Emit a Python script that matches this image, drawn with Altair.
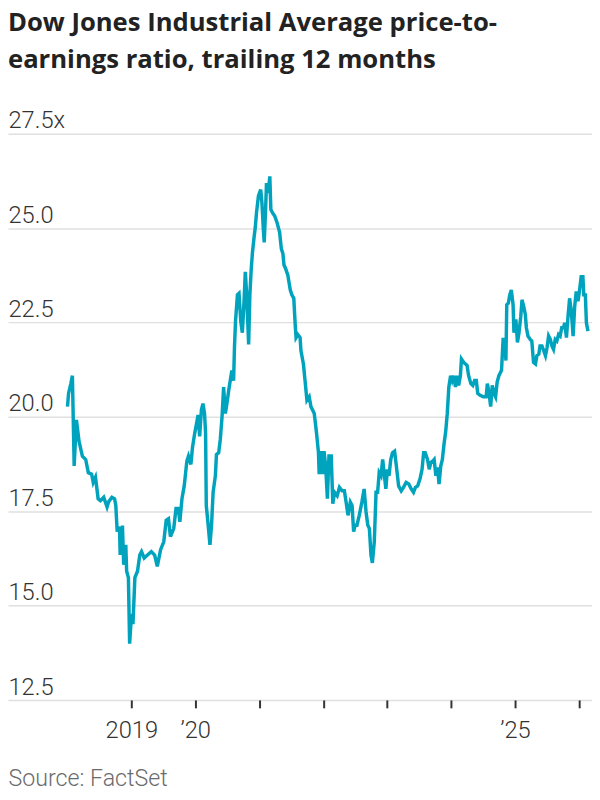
import altair as alt
import pandas as pd

# Decimal-year position of each reading and the trailing 12-month P/E ratio
years = [
    2018.002, 2018.017, 2018.054, 2018.079, 2018.105, 2018.140, 2018.182, 2018.233, 2018.285, 2018.326,
    2018.378, 2018.403, 2018.440, 2018.480, 2018.517, 2018.568, 2018.619, 2018.645, 2018.696, 2018.738,
    2018.758, 2018.779, 2018.815, 2018.826, 2018.861, 2018.881, 2018.912, 2018.927, 2018.954, 2018.974,
    2019.005, 2019.026, 2019.057, 2019.097, 2019.134, 2019.159, 2019.201, 2019.252, 2019.313, 2019.366,
    2019.406, 2019.458, 2019.509, 2019.545, 2019.582, 2019.613, 2019.664, 2019.699, 2019.736, 2019.761,
    2019.792, 2019.829, 2019.869, 2019.895, 2019.931, 2019.957, 2019.992, 2020.019, 2020.045, 2020.069,
    2020.096, 2020.122, 2020.147, 2020.162, 2020.173, 2020.199, 2020.230, 2020.255, 2020.281, 2020.316,
    2020.332, 2020.369, 2020.394, 2020.420, 2020.446, 2020.471, 2020.497, 2020.523, 2020.548, 2020.574,
    2020.600, 2020.616, 2020.631, 2020.662, 2020.687, 2020.713, 2020.739, 2020.759, 2020.785, 2020.806,
    2020.821, 2020.836, 2020.856, 2020.878, 2020.898, 2020.918, 2020.940, 2020.960, 2020.991, 2021.022,
    2021.042, 2021.063, 2021.079, 2021.099, 2021.114, 2021.140, 2021.165, 2021.181, 2021.207, 2021.242,
    2021.279, 2021.319, 2021.346, 2021.372, 2021.387, 2021.412, 2021.449, 2021.485, 2021.511, 2021.542,
    2021.562, 2021.577, 2021.603, 2021.639, 2021.654, 2021.690, 2021.721, 2021.747, 2021.782, 2021.809,
    2021.860, 2021.897, 2021.927, 2021.937, 2021.963, 2021.989, 2022.014, 2022.040, 2022.066, 2022.091,
    2022.128, 2022.153, 2022.179, 2022.221, 2022.256, 2022.298, 2022.333, 2022.360, 2022.390, 2022.426,
    2022.452, 2022.477, 2022.503, 2022.529, 2022.565, 2022.606, 2022.642, 2022.673, 2022.699, 2022.724,
    2022.750, 2022.770, 2022.801, 2022.827, 2022.853, 2022.878, 2022.904, 2022.931, 2022.955, 2022.981,
    2023.008, 2023.032, 2023.059, 2023.085, 2023.120, 2023.147, 2023.182, 2023.224, 2023.259, 2023.301,
    2023.341, 2023.378, 2023.414, 2023.444, 2023.480, 2023.517, 2023.548, 2023.573, 2023.599, 2023.634,
    2023.660, 2023.687, 2023.718, 2023.738, 2023.764, 2023.789, 2023.815, 2023.841, 2023.866, 2023.892,
    2023.918, 2023.943, 2023.969, 2023.995, 2024.020, 2024.046, 2024.073, 2024.097, 2024.123, 2024.150,
    2024.165, 2024.201, 2024.252, 2024.278, 2024.313, 2024.344, 2024.370, 2024.397, 2024.421, 2024.458,
    2024.509, 2024.551, 2024.571, 2024.597, 2024.622, 2024.648, 2024.674, 2024.699, 2024.725, 2024.752,
    2024.792, 2024.818, 2024.844, 2024.860, 2024.875, 2024.900, 2024.921, 2024.946, 2024.972, 2024.988,
    2025.014, 2025.039, 2025.065, 2025.091, 2025.111, 2025.137, 2025.162, 2025.178, 2025.204, 2025.239,
    2025.265, 2025.292, 2025.323, 2025.343, 2025.373, 2025.394, 2025.424, 2025.451, 2025.477, 2025.502,
    2025.528, 2025.554, 2025.579, 2025.605, 2025.631, 2025.656, 2025.682, 2025.708, 2025.733, 2025.759,
    2025.779, 2025.806, 2025.832, 2025.856, 2025.883, 2025.909, 2025.934, 2025.960, 2025.986, 2026.011,
    2026.037, 2026.063, 2026.079, 2026.103, 2026.119, 2026.143,
]

pe = [
    20.27, 20.62, 20.88, 21.09, 18.70, 19.92, 19.35, 18.96, 18.87, 18.52,
    18.48, 18.26, 18.40, 17.83, 17.78, 17.87, 17.61, 17.75, 17.87, 17.83,
    17.65, 16.96, 17.09, 16.34, 17.12, 16.08, 16.61, 15.91, 15.74, 13.99,
    14.78, 14.51, 15.74, 15.91, 16.34, 16.43, 16.26, 16.34, 16.43, 16.34,
    16.04, 16.48, 16.69, 17.26, 17.30, 16.83, 17.04, 17.57, 17.57, 17.22,
    17.83, 18.17, 18.83, 18.96, 18.74, 19.18, 19.57, 19.79, 20.05, 19.48,
    20.18, 20.35, 20.09, 19.57, 17.65, 17.22, 16.61, 17.13, 18.00, 18.44,
    19.00, 19.05, 19.40, 20.00, 20.79, 20.09, 20.35, 20.70, 20.96, 21.23,
    20.96, 21.83, 22.53, 23.23, 23.27, 22.53, 22.23, 22.88, 23.84, 23.23,
    22.62, 21.92, 23.23, 23.93, 24.36, 24.71, 25.02, 25.41, 25.85, 26.02,
    25.67, 24.97, 24.62, 25.49, 26.19, 25.93, 26.37, 25.49, 25.41, 25.32,
    25.15, 24.89, 24.45, 24.32, 24.02, 23.93, 23.75, 23.36, 23.23, 23.14,
    22.45, 22.10, 22.18, 22.10, 21.75, 21.40, 20.88, 20.44, 20.53, 20.27,
    20.09, 19.57, 19.05, 18.48, 19.09, 18.48, 19.09, 18.70, 17.83, 18.96,
    18.96, 17.70, 18.00, 17.91, 18.13, 18.04, 18.04, 17.74, 17.39, 17.74,
    17.65, 16.96, 17.13, 17.13, 17.39, 17.74, 18.09, 17.48, 17.13, 17.04,
    16.34, 16.13, 16.69, 18.00, 18.00, 18.52, 18.44, 18.87, 18.52, 18.09,
    18.61, 18.44, 18.87, 19.05, 19.09, 18.70, 18.17, 18.04, 18.13, 18.26,
    18.22, 18.09, 18.00, 18.13, 18.17, 18.35, 18.61, 19.05, 19.05, 18.87,
    18.61, 18.79, 18.83, 18.87, 18.44, 18.66, 18.22, 18.70, 18.87, 19.26,
    19.61, 20.09, 20.79, 21.09, 20.96, 21.09, 20.79, 21.09, 20.83, 21.09,
    21.53, 21.44, 21.36, 21.09, 20.88, 20.83, 20.96, 20.96, 20.62, 20.57,
    20.53, 20.53, 20.88, 20.62, 20.27, 20.83, 20.62, 20.53, 20.92, 21.09,
    21.23, 22.05, 22.05, 21.49, 22.97, 23.01, 23.23, 23.36, 22.97, 22.23,
    22.58, 21.97, 22.23, 22.66, 23.10, 22.92, 22.71, 22.36, 22.14, 22.05,
    22.01, 21.44, 21.40, 21.62, 21.66, 21.88, 21.88, 21.75, 21.62, 21.83,
    22.14, 22.05, 21.88, 21.79, 22.05, 22.01, 22.18, 22.14, 22.36, 22.36,
    22.49, 22.10, 22.66, 23.14, 22.79, 22.14, 22.92, 23.32, 23.06, 23.36,
    23.71, 23.71, 23.23, 23.23, 22.49, 22.27,
]

title_lines = ["Dow Jones Industrial Average price-to-", "earnings ratio, trailing 12 months"]
source_text = "Source: FactSet"
y_ticks = [12.5, 15.0, 17.5, 20.0, 22.5, 25.0, 27.5]
x_tick_years = [2019, 2020, 2021, 2022, 2023, 2024, 2025, 2026]
x_tick_labels = {2019: "2019", 2020: "\u201920", 2025: "\u201925"}


def to_date(y):
    base = pd.Timestamp(year=int(y), month=1, day=1)
    return (base + pd.Timedelta(days=(y - int(y)) * 365.25)).strftime("%Y-%m-%d")


df = pd.DataFrame({"date": [to_date(y) for y in years], "pe": pe})

label_font = "Roboto, Liberation Sans, sans-serif"

x_label_expr = " : ".join(
    f"utcyear(datum.value) == {yr} ? '{lab}'" for yr, lab in x_tick_labels.items()
) + " : ''"

chart = (
    alt.Chart(df)
    .mark_line(color="#00a3bd", strokeWidth=3.5)
    .encode(
        x=alt.X(
            "date:T",
            scale=alt.Scale(
                domain=[
                    alt.DateTime(year=2017, month=1, date=26, utc=True),
                    alt.DateTime(year=2026, month=3, date=17, utc=True),
                ]
            ),
            axis=alt.Axis(
                values=[alt.DateTime(year=y, month=1, date=1, utc=True) for y in x_tick_years],
                labelExpr=x_label_expr,
                grid=False,
                domain=False,
                ticks=True,
                tickSize=8,
                tickWidth=2,
                tickColor="#333333",
                labelFont=label_font,
                labelFontSize=24,
                labelFontWeight=300,
                labelColor="#333333",
                labelPadding=11,
                labelFlush=False,
                labelOverlap=False,
                title=source_text,
                titleAnchor="start",
                titleAlign="left",
                titleX=0,
                titleY=87,
                titleBaseline="alphabetic",
                titleFont=label_font,
                titleFontSize=23.5,
                titleFontWeight=300,
                titleColor="#6b6b6b",
            ),
        ),
        y=alt.Y(
            "pe:Q",
            scale=alt.Scale(domain=[12.5, 27.5], nice=False, zero=False),
            axis=alt.Axis(
                values=y_ticks,
                labelExpr="datum.value == 27.5 ? '27.5x' : format(datum.value, '.1f')",
                title=None,
                domain=False,
                ticks=False,
                tickSize=0,
                labelAlign="left",
                labelBaseline="alphabetic",
                labelPadding=0,
                labelOffset=-6,
                gridColor="#e0e0e0",
                gridWidth=1.5,
                labelFont=label_font,
                labelFontSize=24,
                labelFontWeight=300,
                labelColor="#333333",
            ),
        ),
    )
    .properties(
        width=592,
        height=574,
        title=alt.TitleParams(
            text=title_lines,
            anchor="start",
            font="Open Sans",
            fontSize=26,
            fontWeight="bold",
            color="#222222",
            lineHeight=37.5,
            offset=37,
        ),
        padding={"left": 0, "right": 0, "top": 122, "bottom": 96},
        autosize=alt.AutoSizeParams(type="none"),
    )
    .configure_view(stroke=None)
)

chart.save("out.html", embed_options={"renderer": "svg", "actions": False})
